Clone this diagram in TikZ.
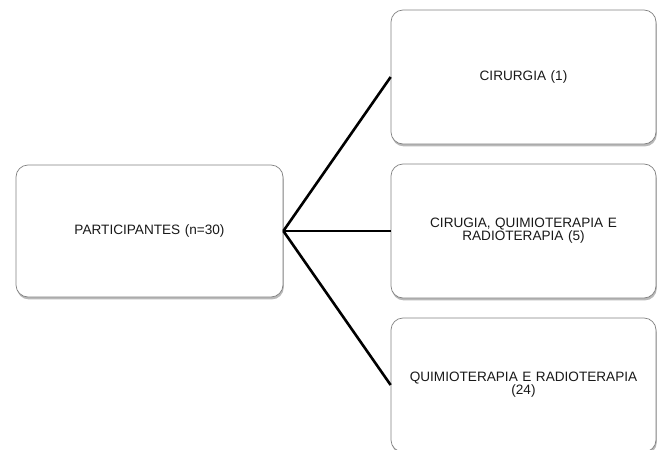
\documentclass[tikz,border=0pt]{standalone}
\usepackage{fontspec}
\setmainfont{Liberation Sans}
\usetikzlibrary{shadows}
\definecolor{boxline}{RGB}{130,130,130}
\definecolor{txt}{RGB}{25,25,25}
\begin{document}
\begin{tikzpicture}[x=1pt,y=-1pt,
  box/.style={draw=boxline, line width=0.7pt, fill=white, rounded corners=12pt,
    minimum width=265pt, minimum height=134pt, inner sep=0pt, align=center,
    text width=250pt, text=txt,
    font=\fontsize{13.6}{13.3}\selectfont,
    drop shadow={shadow xshift=0.8pt, shadow yshift=-2.4pt, opacity=0.5, fill=black!55}},
  link/.style={line width=2.6pt, black}]
\useasboundingbox (0,0) rectangle (657,450);
\node[box, minimum width=267pt, minimum height=132pt] (p) at (149.5,231) {PARTICIPANTES (n=30)};
\node[box] (a) at (523.5,77) {CIRURGIA (1)};
\node[box] (b) at (523.5,231) {CIRUGIA, QUIMIOTERAPIA E\\RADIOTERAPIA (5)};
\node[box] (c) at (523.5,385) {QUIMIOTERAPIA E RADIOTERAPIA\\(24)};
\draw[link] (p.east) -- (a.west);
\draw[link] (p.east) -- (b.west);
\draw[link] (p.east) -- (c.west);
\end{tikzpicture}
\end{document}
